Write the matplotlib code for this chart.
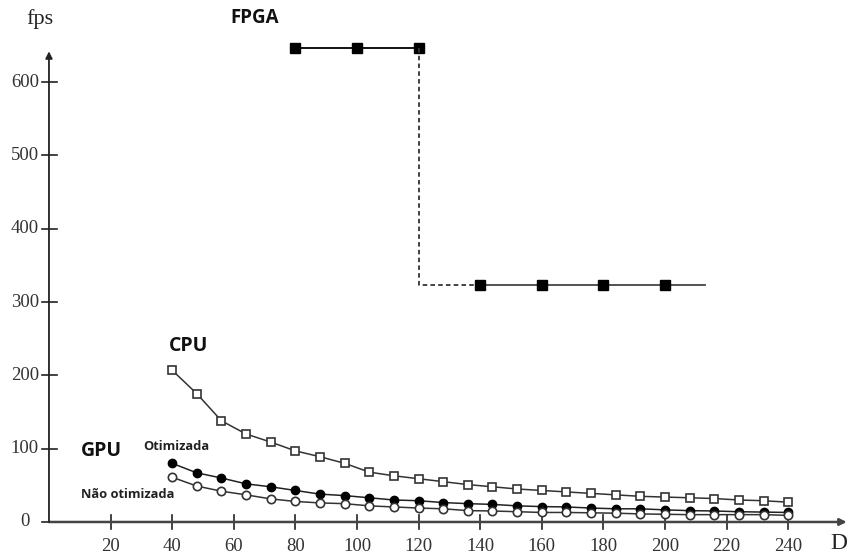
import numpy as np
import matplotlib.pyplot as plt

# dados
D = [40, 48, 56, 64, 72, 80, 88, 96, 104, 112, 120, 128, 136,
     144, 152, 160, 168, 176, 184, 192, 200, 208, 216, 224, 232, 240]
cpu = [207, 175, 138, 120, 109, 97, 89, 80, 68, 63, 59, 55, 51,
       48, 45, 43, 41, 39, 37, 35, 34, 33, 32, 30, 29, 27]
gpu_otim = [80, 67, 60, 52, 48, 43, 38, 36, 33, 30, 29, 26.5, 25,
            24, 22, 21, 20.5, 19, 18, 18, 16.5, 15.5, 15, 14, 13.5, 13]
gpu_nao = [61, 49, 42, 37, 31.5, 28, 26, 25, 22, 20.5, 19, 18, 15.5,
           15, 14, 13, 13, 12.5, 12, 11, 10.5, 10, 10, 10, 10, 9]

fpga_d1 = [80, 100, 120]
fpga_v1 = [647, 647, 647]
fpga_d2 = [140, 160, 180, 200]
fpga_v2 = [323, 323, 323, 323]
fpga_fim = 213

xticks = [20, 40, 60, 80, 100, 120, 140, 160, 180, 200, 220, 240]
yticks = [100, 200, 300, 400, 500, 600]

fig = plt.figure(figsize=(8.51, 5.56), dpi=100)
ax = fig.add_axes([0, 0, 1, 1])
ax.set_xlim(-15.9, 260.4)
ax.set_ylim(-46.4, 712)
ax.axis('off')

serif = 'Liberation Serif'
sans = 'Open Sans'
eixo = '#444444'

# eixos com setas
ax.annotate('', xy=(259, 0), xytext=(0, 0),
            arrowprops=dict(arrowstyle='-|>', color=eixo, lw=1.8,
                            mutation_scale=10, shrinkA=0, shrinkB=0))
ax.annotate('', xy=(0, 642), xytext=(0, 0),
            arrowprops=dict(arrowstyle='-|>', color='#222222', lw=1.3,
                            mutation_scale=10, shrinkA=0, shrinkB=0))

for x in xticks:
    ax.plot([x, x], [-10, 10], color='#222222', lw=1.2)
    ax.text(x, -33, str(x), ha='center', va='center', fontsize=13.5,
            family=serif, color='#333333')
for y in yticks:
    ax.plot([-2.3, 2.5], [y, y], color='#222222', lw=1.2)
    ax.text(-3.3, y, str(y), ha='right', va='center', fontsize=13.5,
            family=serif, color='#333333')
ax.plot([-2.3, 2.5], [0, 0], color='#222222', lw=1.2)
ax.text(-6.3, 0, '0', ha='right', va='center', fontsize=13.5,
        family=serif, color='#333333')

ax.text(-3, 686, 'fps', ha='center', va='center', fontsize=16,
        family=serif, color='#222222')
ax.text(256.5, -29, 'D', ha='center', va='center', fontsize=17,
        family=serif, color='#222222')

# CPU e GPU
ax.plot(D, cpu, '-s', color='#333333', lw=1.1, ms=6,
        mfc='white', mec='#333333', mew=1.2)
ax.plot(D, gpu_otim, '-o', color='#222222', lw=1.1, ms=6,
        mfc='black', mec='black')
ax.plot(D, gpu_nao, '-o', color='#333333', lw=1.1, ms=6,
        mfc='white', mec='#333333', mew=1.2)

# FPGA
ax.plot(fpga_d1, fpga_v1, '-s', color='black', lw=1.3, ms=6.5)
ax.plot([fpga_d1[-1], fpga_d1[-1], fpga_d2[0]],
        [fpga_v1[-1], fpga_v2[0], fpga_v2[0]],
        color='#333333', lw=1.3, ls=(0, (2.5, 1.8)))
ax.plot(fpga_d2 + [fpga_fim], fpga_v2 + [fpga_v2[0]], color='#444444', lw=1.3)
ax.plot(fpga_d2, fpga_v2, 's', color='black', ms=6.5)

ax.text(59, 688, 'FPGA', fontsize=13.5, fontweight='bold', family=sans,
        ha='left', va='center', color='#111111')
ax.text(39, 240, 'CPU', fontsize=14, fontweight='bold', family=sans,
        ha='left', va='center', color='#111111')
ax.text(10.5, 97, 'GPU', fontsize=14, fontweight='bold', family=sans,
        ha='left', va='center', color='#111111')
ax.text(30.5, 103, 'Otimizada', fontsize=9.3, fontweight='bold', family=sans,
        ha='left', va='center', color='#222222')
ax.text(10.5, 38, 'Não otimizada', fontsize=9.3, fontweight='bold', family=sans,
        ha='left', va='center', color='#222222')

fig.savefig('out.png', dpi=100, facecolor='white')
